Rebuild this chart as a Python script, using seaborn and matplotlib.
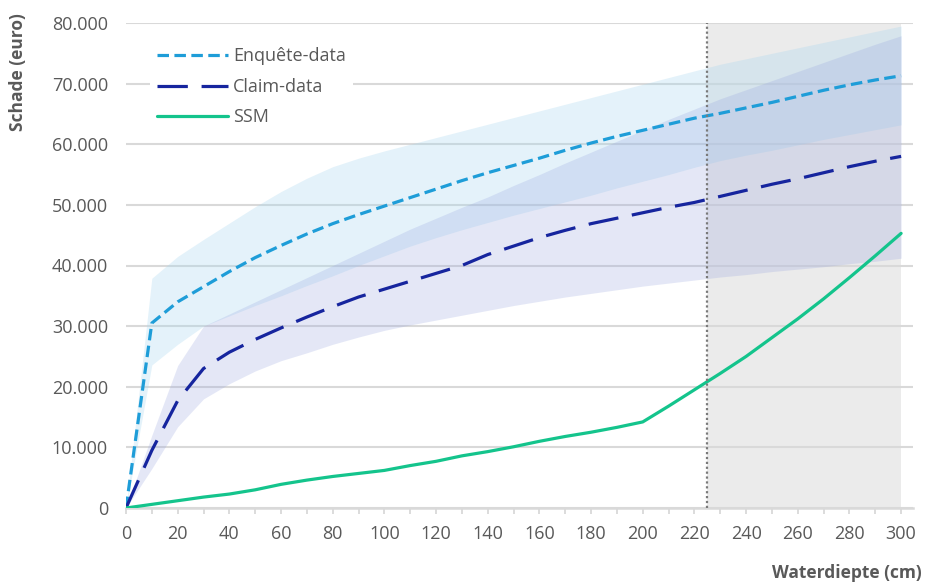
import numpy as np
import pandas as pd
import matplotlib
matplotlib.use("Agg")
import matplotlib.pyplot as plt
from matplotlib.ticker import FuncFormatter, MultipleLocator
from matplotlib.lines import Line2D
import seaborn as sns

# ---------------- data ----------------
depth = list(range(0, 301, 10))

enq_mean = [0, 30500, 34000, 36500, 39000, 41300, 43300, 45200, 46900, 48400, 49800,
            51200, 52600, 54000, 55300, 56500, 57700, 59000, 60200, 61300, 62300,
            63300, 64300, 65100, 66000, 66900, 67900, 68900, 69800, 70600, 71300]
enq_low = [0, 23600, 27000, 30000, 31700, 33400, 35000, 36700, 38300, 40000, 41600,
           43200, 44600, 45900, 47100, 48300, 49400, 50500, 51600, 52800, 53900,
           55000, 56200, 57300, 58200, 59000, 59900, 60800, 61600, 62400, 63200]
enq_high = [0, 37900, 41500, 44300, 47000, 49700, 52200, 54400, 56300, 57700, 58900,
            60000, 61100, 62200, 63300, 64400, 65500, 66600, 67700, 68800, 69900,
            71000, 72100, 73200, 74100, 75000, 75900, 76800, 77700, 78600, 79500]

claim_mean = [0, 9500, 17700, 23000, 25700, 27800, 29700, 31500, 33200, 34800, 36100,
              37400, 38700, 40000, 41800, 43200, 44600, 45800, 46900, 47800, 48700,
              49600, 50400, 51400, 52400, 53400, 54300, 55300, 56300, 57200, 58000]
claim_low = [0, 6500, 13400, 18000, 20500, 22600, 24300, 25600, 27000, 28200, 29300,
             30200, 31000, 31800, 32600, 33400, 34100, 34800, 35400, 36000, 36600,
             37100, 37600, 38100, 38500, 39000, 39400, 39800, 40300, 40700, 41200]
claim_high = [0, 12000, 23500, 30000, 32000, 34000, 36000, 38000, 40000, 42000, 44000,
              46000, 47800, 49600, 51300, 53200, 55000, 56900, 58700, 60500, 62300,
              64100, 65800, 67500, 69000, 70500, 72000, 73500, 75000, 76500, 77900]

ssm = [0, 600, 1200, 1800, 2300, 3000, 3900, 4600, 5200, 5700, 6200,
       7000, 7700, 8600, 9300, 10100, 11000, 11800, 12500, 13300, 14200,
       16800, 19500, 22200, 25000, 28100, 31200, 34500, 38000, 41600, 45300]

series_names = ["Enquête-data", "Claim-data", "SSM"]
x_ticks = list(range(0, 301, 20))
y_ticks = list(range(0, 80001, 10000))
shade_start, shade_end = 225, 300

# ---------------- style ----------------
sns.set_theme(style="white")
plt.rcParams["font.family"] = ["Open Sans", "DejaVu Sans"]
txt = "#595959"
grid_c = "#d9d9d9"

c_enq = "#1e9dd8"
c_claim = "#16259e"
c_ssm = "#14c48c"

fig = plt.figure(figsize=(9.26, 5.82), dpi=100)
W, H = 926, 582
ax = fig.add_axes([126 / W, (H - 508) / H, (913 - 126) / W, (508 - 23) / H])

df = pd.DataFrame({"depth": depth, "enq": enq_mean, "claim": claim_mean, "ssm": ssm})

# grey region
ax.axvspan(shade_start, shade_end, ymin=0, ymax=1, color="#ebebeb", lw=0, zorder=0)

# bands
ax.fill_between(depth, enq_low, enq_high, color="#a6d6ef", alpha=0.30, lw=0, zorder=1)
ax.fill_between(depth, claim_low, claim_high, color="#98a5df", alpha=0.26, lw=0, zorder=1)

# lines
sns.lineplot(data=df, x="depth", y="enq", ax=ax, color=c_enq, lw=2.3, zorder=4)
l_enq = ax.lines[-1]
l_enq.set_dashes([3.6, 1.7])
l_enq.set_dash_capstyle("butt")
sns.lineplot(data=df, x="depth", y="claim", ax=ax, color=c_claim, lw=2.3, zorder=4)
l_claim = ax.lines[-1]
l_claim.set_dashes([9.5, 4.3])
sns.lineplot(data=df, x="depth", y="ssm", ax=ax, color=c_ssm, lw=2.3, zorder=4)

# dotted vertical line
ax.axvline(shade_start, color="#7a7a7a", lw=1.6, ls=(0, (1, 1.2)), zorder=5)

# axes
ax.set_xlim(0, 304.6)
ax.set_ylim(0, 80000)
ax.set_xticks(x_ticks)
ax.xaxis.set_minor_locator(MultipleLocator(10))
ax.set_yticks(y_ticks)
ax.yaxis.set_major_formatter(FuncFormatter(lambda v, p: f"{v:,.0f}".replace(",", ".")))
ax.grid(axis="y", color=grid_c, lw=1.5, zorder=0.5)
ax.grid(axis="x", visible=False)
ax.set_axisbelow(True)
for s in ["top", "right", "left"]:
    ax.spines[s].set_visible(False)
ax.spines["bottom"].set_color(grid_c)
ax.spines["bottom"].set_linewidth(1.8)
ax.tick_params(axis="x", which="both", bottom=True, length=4.5, width=1.3, color=grid_c,
               labelsize=13, labelcolor=txt, pad=8)
ax.tick_params(axis="y", length=0, labelsize=13, labelcolor=txt, pad=13)
ax.set_xlabel("")
ax.set_ylabel("")
ax.set_facecolor("white")

fig.text(18 / W, 1 - 72 / H, "Schade (euro)", rotation=90, ha="center", va="center",
         fontsize=12.5, fontweight="bold", color=txt)
fig.text(922 / W, 1 - 573 / H, "Waterdiepte (cm)", ha="right", va="center",
         fontsize=12.5, fontweight="bold", color=txt)

# legend
handles = [
    Line2D([], [], color=c_enq, lw=2.3, dashes=[3.6, 1.7]),
    Line2D([], [], color=c_claim, lw=2.3, dashes=[9.5, 4.3]),
    Line2D([], [], color=c_ssm, lw=2.3),
]
leg = ax.legend(handles, series_names, loc="upper left",
                bbox_to_anchor=(150 / W, 1 - 40 / H), bbox_transform=fig.transFigure,
                frameon=True, facecolor="white", edgecolor="none", framealpha=1,
                fontsize=13, handlelength=3.9, handletextpad=0.3, labelspacing=0.7,
                borderpad=0.4, borderaxespad=0)
for t in leg.get_texts():
    t.set_color(txt)
leg.set_zorder(6)

fig.savefig("out.png", dpi=100)
